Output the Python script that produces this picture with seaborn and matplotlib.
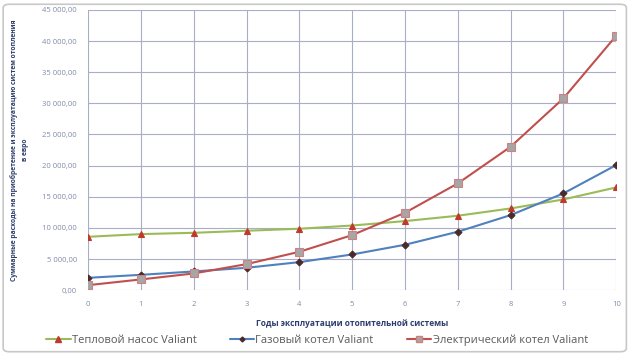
import pandas as pd
import numpy as np
import seaborn as sns
import matplotlib.pyplot as plt
from matplotlib.ticker import FuncFormatter
from matplotlib.patches import FancyBboxPatch

years = list(range(11))
heat_pump = [8570, 9000, 9210, 9540, 9860, 10380, 11090, 11950, 13120, 14570, 16500]
gas_boiler = [1980, 2460, 3000, 3590, 4500, 5730, 7290, 9380, 12050, 15540, 20090]
electric_boiler = [800, 1720, 2680, 4180, 6160, 8840, 12430, 17140, 23030, 30810, 40870]
names = ['Тепловой насос Valiant', 'Газовый котел Valiant', 'Электрический котел Valiant']

df = pd.DataFrame({
  'year': years * 3,
  'cost': heat_pump + gas_boiler + electric_boiler,
  'series': [names[0]] * 11 + [names[1]] * 11 + [names[2]] * 11,
})

sns.set_style('white')
plt.rcParams['font.family'] = ['Open Sans', 'DejaVu Sans']

fig = plt.figure(figsize=(6.34, 3.56), dpi=100)
ax = fig.add_axes([0.139, 0.185, 0.833, 0.787])

palette = {names[0]: '#9BBB59', names[1]: '#4F81BD', names[2]: '#C0504D'}
markers = {names[0]: '^', names[1]: 'D', names[2]: 's'}
sns.lineplot(data=df, x='year', y='cost', hue='series', style='series',
             palette=palette, markers=markers, dashes=False, linewidth=1.5,
             markersize=5, ax=ax, legend=False)

# marker colors like the Excel chart
mfc = ['#C0392B', '#4A2A2A', '#A6A6A6']
mec = ['#C0392B', '#4A2A2A', '#D08080']
msz = [5, 3.5, 6]
for line, fc, ec, ms in zip(ax.lines, mfc, mec, msz):
  line.set_markerfacecolor(fc)
  line.set_markeredgecolor(ec)
  line.set_markersize(ms)
  line.set_markeredgewidth(0.8)

ax.set_xlim(0, 10)
ax.set_ylim(0, 45000)
ax.set_xticks(years)
ax.set_yticks(np.arange(0, 45001, 5000))
ax.yaxis.set_major_formatter(FuncFormatter(
  lambda v, p: f'{v:,.2f}'.replace(',', ' ').replace('.', ',')))
ax.tick_params(axis='both', labelsize=5.5, colors='#7F8CA8', length=0, pad=8)
ax.grid(True, color='#A9AEC8', linewidth=0.8)
for s in ax.spines.values():
  s.set_visible(False)

ax.set_xlabel('Годы эксплуатации отопительной системы', fontsize=6,
              fontweight='bold', color='#2E3E6E', labelpad=8)
ax.set_ylabel('Суммарные расходы на приобретение и эксплуатацию систем отопления\nв евро',
              fontsize=4.9, fontweight='bold', color='#2E3E6E',
              linespacing=1.7)
ax.yaxis.set_label_coords(-0.112, 0.5)

handles = [plt.Line2D([], [], color=palette[n], marker=markers[n], markersize=m - 1,
                      markerfacecolor=fc, markeredgecolor=ec, linewidth=1.5)
           for n, fc, ec, m in zip(names, mfc, mec, msz)]
fig.legend(handles, names, loc='center', bbox_to_anchor=(0.5, 0.045), ncol=3,
           frameon=False, fontsize=8, handlelength=2.2, handletextpad=0.1,
           columnspacing=3, labelcolor='#595959')

# outer chart border
fig.patches.append(FancyBboxPatch((0.005, 0.012), 0.983, 0.976,
                                  boxstyle='round,pad=0,rounding_size=0.01',
                                  transform=fig.transFigure, fill=False,
                                  edgecolor='#C8C8C8', linewidth=1.2))

fig.savefig('out.png', dpi=100)
